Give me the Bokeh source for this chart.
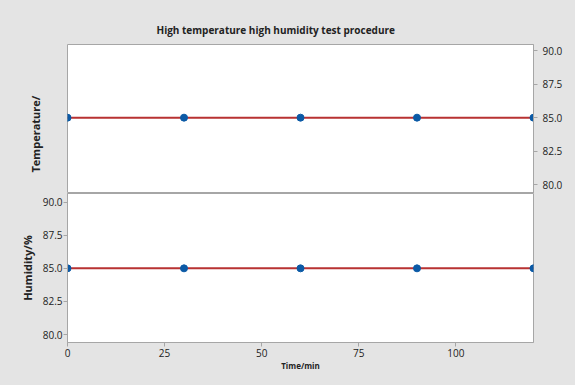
from bokeh.plotting import figure
from bokeh.layouts import column
from bokeh.models import Range1d, FixedTicker, PrintfTickFormatter, Title
from bokeh.embed import file_html
from bokeh.resources import INLINE

time_min = [0, 30, 60, 90, 120]
temperature = [85.0, 85.0, 85.0, 85.0, 85.0]
humidity = [85.0, 85.0, 85.0, 85.0, 85.0]
y_ticks = [80.0, 82.5, 85.0, 87.5, 90.0]
x_ticks = [0, 25, 50, 75, 100]

BG = "#e4e4e4"
FONT = "Open Sans"
LINE_C = "#b83232"
DOT_C = "#0b5aa6"
FRAME_C = "#a6a6a6"
TXT = "#222222"

W = 575

def style_axis(ax, standoff):
    ax.ticker = FixedTicker(ticks=y_ticks)
    ax.formatter = PrintfTickFormatter(format="%.1f")
    ax.major_label_text_font = FONT
    ax.major_label_text_font_size = "10px"
    ax.major_label_text_color = TXT
    ax.major_label_standoff = standoff
    ax.major_tick_line_color = FRAME_C
    ax.major_tick_out = 4
    ax.major_tick_in = 0
    ax.minor_tick_line_color = None
    ax.axis_line_color = FRAME_C
    ax.axis_label_text_font = FONT
    ax.axis_label_text_font_size = "11px"
    ax.axis_label_text_font_style = "bold"
    ax.axis_label_text_color = TXT
    ax.axis_label_standoff = 5

# ---- top panel: temperature
top = figure(width=W, height=193, output_backend="svg", toolbar_location=None,
             x_range=Range1d(0, 120), y_range=Range1d(79.35, 90.45),
             x_axis_location=None, y_axis_location="right",
             min_border_left=67, min_border_right=42, min_border_top=44, min_border_bottom=0)
top.background_fill_color = "white"
top.border_fill_color = BG
top.outline_line_color = FRAME_C
top.grid.visible = False
top.title.text = "High temperature high humidity test procedure"
top.title.text_font = FONT
top.title.text_font_size = "10px"
top.title.text_font_style = "bold"
top.title.text_color = TXT
top.title.align = "left"
top.title.offset = 89
top.title.standoff = 15
style_axis(top.yaxis[0], 5)
top.add_layout(Title(text="Temperature/", align="left", offset=21, standoff=49,
                     text_font=FONT, text_font_size="11px", text_font_style="bold",
                     text_color=TXT), "left")
top.line(time_min, temperature, line_color=LINE_C, line_width=2)
top.scatter(time_min, temperature, size=7, fill_color=DOT_C, line_color=DOT_C)

# ---- bottom panel: humidity
bot = figure(width=W, height=192, output_backend="svg", toolbar_location=None,
             x_range=Range1d(0, 120), y_range=Range1d(79.4, 90.65),
             min_border_left=67, min_border_right=42, min_border_top=0, min_border_bottom=43)
bot.background_fill_color = "white"
bot.border_fill_color = BG
bot.outline_line_color = FRAME_C
bot.grid.visible = False
style_axis(bot.yaxis[0], 1)
bot.yaxis[0].axis_label = "Humidity/%"
xa = bot.xaxis[0]
xa.ticker = FixedTicker(ticks=x_ticks)
xa.axis_label = "Time/min"
xa.major_label_text_font = FONT
xa.major_label_text_font_size = "10px"
xa.major_label_text_color = TXT
xa.major_label_standoff = 2
xa.major_tick_line_color = FRAME_C
xa.major_tick_out = 4
xa.major_tick_in = 0
xa.minor_tick_line_color = None
xa.axis_line_color = FRAME_C
xa.axis_label_text_font = FONT
xa.axis_label_text_font_size = "8px"
xa.axis_label_text_font_style = "bold"
xa.axis_label_text_color = TXT
xa.axis_label_standoff = 0
bot.line(time_min, humidity, line_color=LINE_C, line_width=2)
bot.scatter(time_min, humidity, size=7, fill_color=DOT_C, line_color=DOT_C)

layout = column(top, bot, spacing=0, styles={"background-color": BG})
open("out.html", "w").write(file_html(layout, INLINE))
